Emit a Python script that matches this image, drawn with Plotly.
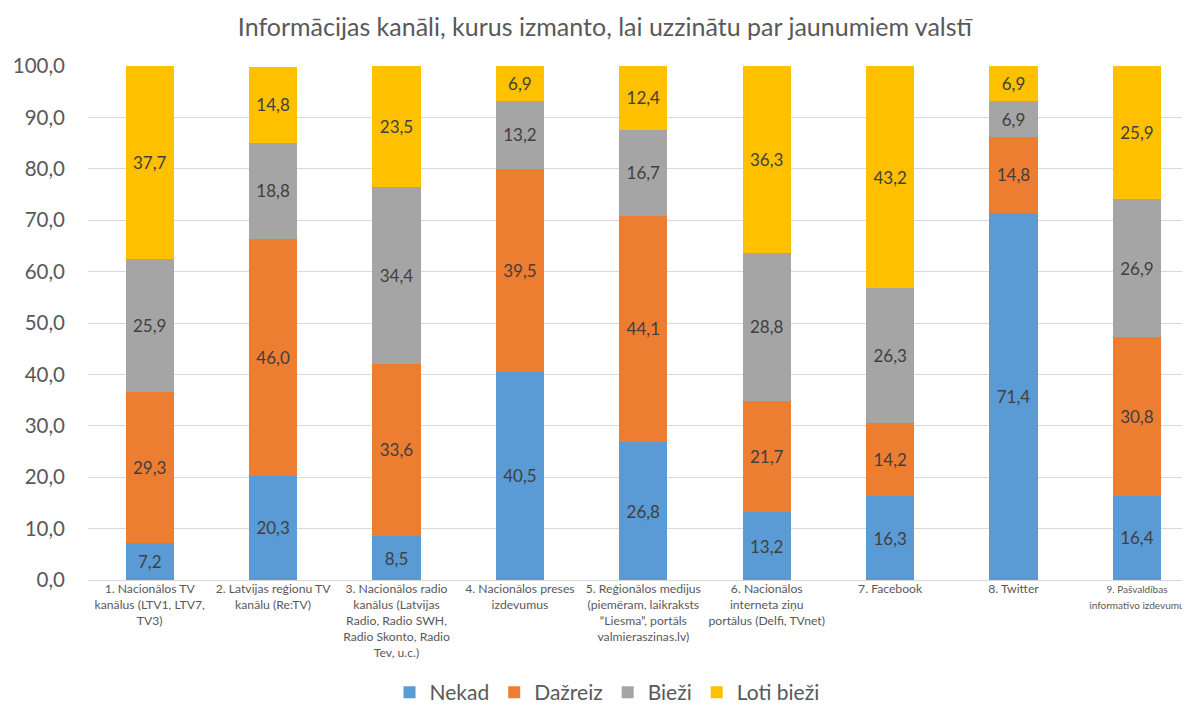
import plotly.graph_objects as go

categories = [
    "1. Nacionālos TV<br>kanālus (LTV1, LTV7,<br>TV3)",
    "2. Latvijas reģionu TV<br>kanālu (Re:TV)",
    "3. Nacionālos radio<br>kanālus (Latvijas<br>Radio, Radio SWH,<br>Radio Skonto, Radio<br>Tev, u.c.)",
    "4. Nacionālos preses<br>izdevumus",
    "5. Reģionālos medijus<br>(piemēram, laikraksts<br>“Liesma”, portāls<br>valmieraszinas.lv)",
    "6. Nacionālos<br>interneta ziņu<br>portālus (Delfi, TVnet)",
    "7. Facebook",
    "8. Twitter",
    "9. Pašvaldības<br>informatīvo izdevumu",
]
nekad = [7.2, 20.3, 8.5, 40.5, 26.8, 13.2, 16.3, 71.4, 16.4]
dazreiz = [29.3, 46.0, 33.6, 39.5, 44.1, 21.7, 14.2, 14.8, 30.8]
biezi = [25.9, 18.8, 34.4, 13.2, 16.7, 28.8, 26.3, 6.9, 26.9]
loti_biezi = [37.7, 14.8, 23.5, 6.9, 12.4, 36.3, 43.2, 6.9, 25.9]
y_ticks = [0, 10, 20, 30, 40, 50, 60, 70, 80, 90, 100]

series = [
    ("Nekad", nekad, "#5B9BD5"),
    ("Dažreiz", dazreiz, "#ED7D31"),
    ("Bieži", biezi, "#A5A5A5"),
    ("Loti bieži", loti_biezi, "#FFC000"),
]

x_idx = list(range(len(categories)))
FONT = "Lato, Open Sans, sans-serif"

# last label sits at the right edge of the page; render it a touch smaller so it stays visible
tick_text = list(categories)
tick_text[-1] = '<span style="font-size:10px">' + tick_text[-1].replace("<br>", '</span><br><span style="font-size:10px">') + "</span>"

fig = go.Figure()
for name, vals, color in series:
    fig.add_trace(go.Bar(
        x=x_idx, y=vals, name=name,
        marker=dict(color=color, line=dict(width=0)),
        texttemplate="%{y:.1f}",
        textposition="inside",
        insidetextanchor="middle",
        constraintext="none",
        textfont=dict(family=FONT, size=17, color="#404040"),
        width=0.39,
    ))

fig.update_layout(
    barmode="stack",
    width=1182, height=699,
    paper_bgcolor="white", plot_bgcolor="white",
    separators=", ",
    font=dict(family=FONT, color="#595959"),
    margin=dict(l=80, r=0, t=58, b=127, autoexpand=False),
    title=dict(
        text="Informācijas kanāli, kurus izmanto, lai uzzinātu par jaunumiem valstī",
        x=0.505, xanchor="center", y=0.972, yanchor="middle",
        font=dict(family=FONT, size=25, color="#595959"),
    ),
    legend=dict(
        orientation="h", x=0.471, xanchor="center", y=-0.219, yanchor="middle",
        font=dict(family=FONT, size=21, color="#595959"),
        traceorder="normal",
    ),
    showlegend=True,
)

fig.update_xaxes(
    tickmode="array", tickvals=x_idx, ticktext=tick_text,
    range=[-0.5, 8.43],
    tickfont=dict(family=FONT, size=12.2, color="#595959"),
    showgrid=False, showline=False, ticks="", tickangle=0,
    ticklabeloverflow="allow",
)
fig.update_yaxes(
    range=[0, 100], tickmode="array", tickvals=y_ticks, tickformat=".1f",
    tickfont=dict(family=FONT, size=20.5, color="#595959"),
    showgrid=True, gridcolor="#D9D9D9", gridwidth=1,
    zeroline=True, zerolinecolor="#D9D9D9", zerolinewidth=1,
    showline=False, ticks="", ticklabelstandoff=22,
)

fig.write_html("out.html")
